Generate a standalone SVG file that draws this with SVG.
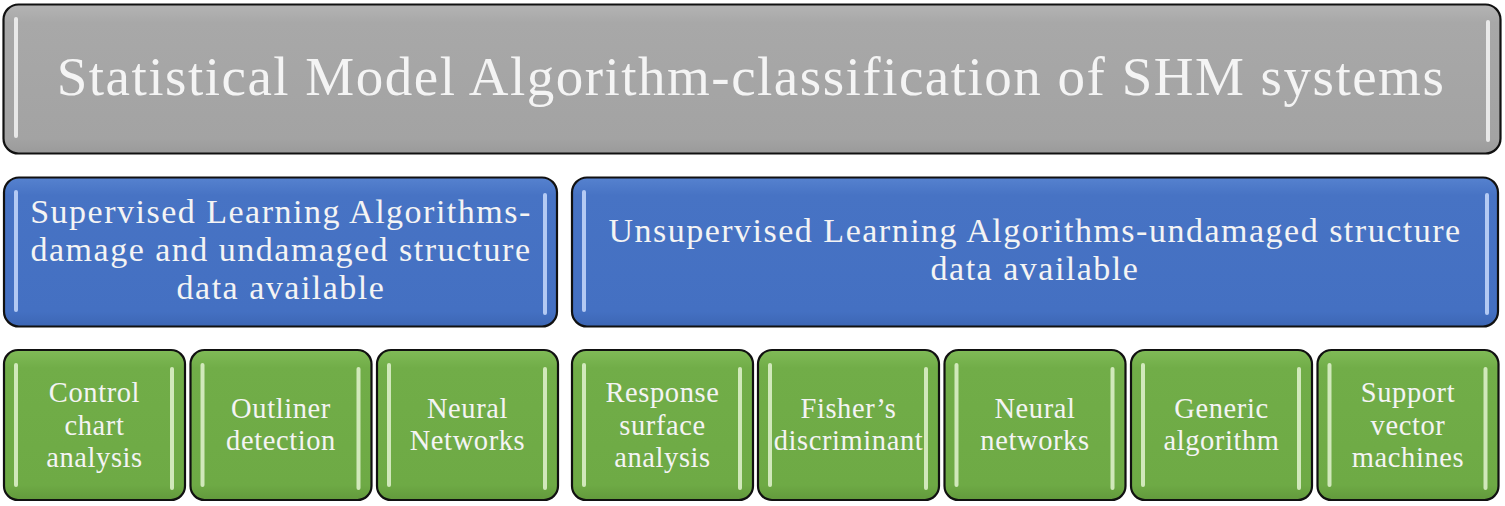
<svg xmlns="http://www.w3.org/2000/svg" width="1505" height="506" viewBox="0 0 1505 506">
<defs>
<linearGradient id="gGray" x1="0" y1="0" x2="0" y2="1">
<stop offset="0" stop-color="#b4b4b4"/><stop offset="0.12" stop-color="#a8a8a8"/><stop offset="0.9" stop-color="#a3a3a3"/><stop offset="1" stop-color="#9a9a9a"/>
</linearGradient>
<linearGradient id="gBlue" x1="0" y1="0" x2="0" y2="1">
<stop offset="0" stop-color="#5682cf"/><stop offset="0.12" stop-color="#4773c4"/><stop offset="0.9" stop-color="#4470c2"/><stop offset="1" stop-color="#3c66b4"/>
</linearGradient>
<linearGradient id="gGreen" x1="0" y1="0" x2="0" y2="1">
<stop offset="0" stop-color="#80bb57"/><stop offset="0.12" stop-color="#71ad48"/><stop offset="0.9" stop-color="#6eaa45"/><stop offset="1" stop-color="#62993c"/>
</linearGradient>
</defs>
<style>
.box{stroke:#111;stroke-width:2.2}
.gray{fill:url(#gGray)}
.blue{fill:url(#gBlue)}
.green{fill:url(#gGreen)}
.hl{fill:#ffffff;opacity:0.75}
.hlb{fill:#cfe0ff;opacity:0.8}
.hlg{fill:#eaf7d8;opacity:0.8}
text{font-family:"Liberation Serif","DejaVu Serif",serif;fill:#f4f4f4;text-anchor:middle}
.t1{font-size:55px;letter-spacing:1.5px}
.t2{font-size:34px;letter-spacing:1.5px}
.t3{font-size:28.5px;letter-spacing:0.6px}
</style>
<rect width="1505" height="506" fill="#ffffff"/>
<g id="title">
<rect class="box gray" x="3.5" y="4.5" width="1497" height="149" rx="15"/>
<rect class="hl" x="14" y="17" width="4" height="121" rx="2"/>
<rect class="hl" x="1486" y="20" width="4" height="122" rx="2"/>
<text class="t1" x="751" y="95">Statistical Model Algorithm-classification of SHM systems</text>
</g>
<g id="supervised">
<rect class="box blue" x="4" y="177.5" width="553" height="149" rx="15"/>
<rect class="hlb" x="14" y="190" width="4" height="122" rx="2"/>
<rect class="hlb" x="543" y="193" width="4" height="122" rx="2"/>
<text class="t2" x="281" y="223">Supervised Learning Algorithms-</text>
<text class="t2" x="281" y="261">damage and undamaged structure</text>
<text class="t2" x="281" y="299">data available</text>
</g>
<g id="unsupervised">
<rect class="box blue" x="572" y="177.5" width="926" height="149" rx="15"/>
<rect class="hlb" x="582" y="190" width="4" height="122" rx="2"/>
<rect class="hlb" x="1485" y="193" width="4" height="122" rx="2"/>
<text class="t2" x="1035" y="242">Unsupervised Learning Algorithms-undamaged structure</text>
<text class="t2" x="1035" y="280">data available</text>
</g>
<g id="control-chart">
<rect class="box green" x="4" y="350" width="181" height="150" rx="14"/>
<rect class="hlg" x="14" y="363" width="4" height="124" rx="2"/>
<rect class="hlg" x="170" y="367" width="4" height="123" rx="2"/>
<text class="t3" x="94.5" y="402">Control</text>
<text class="t3" x="94.5" y="435">chart</text>
<text class="t3" x="94.5" y="467">analysis</text>
</g>
<g id="outliner">
<rect class="box green" x="190.5" y="350" width="181" height="150" rx="14"/>
<rect class="hlg" x="200.5" y="363" width="4" height="124" rx="2"/>
<rect class="hlg" x="356.5" y="367" width="4" height="123" rx="2"/>
<text class="t3" x="281" y="418">Outliner</text>
<text class="t3" x="281" y="450">detection</text>
</g>
<g id="neural-networks-sup">
<rect class="box green" x="377" y="350" width="181" height="150" rx="14"/>
<rect class="hlg" x="387" y="363" width="4" height="124" rx="2"/>
<rect class="hlg" x="543" y="367" width="4" height="123" rx="2"/>
<text class="t3" x="467.5" y="418">Neural</text>
<text class="t3" x="467.5" y="450">Networks</text>
</g>
<g id="response-surface">
<rect class="box green" x="572" y="350" width="181" height="150" rx="14"/>
<rect class="hlg" x="582" y="363" width="4" height="124" rx="2"/>
<rect class="hlg" x="738" y="367" width="4" height="123" rx="2"/>
<text class="t3" x="662.5" y="402">Response</text>
<text class="t3" x="662.5" y="435">surface</text>
<text class="t3" x="662.5" y="467">analysis</text>
</g>
<g id="fisher">
<rect class="box green" x="758" y="350" width="181" height="150" rx="14"/>
<rect class="hlg" x="768" y="363" width="4" height="124" rx="2"/>
<rect class="hlg" x="924" y="367" width="4" height="123" rx="2"/>
<text class="t3" x="848.5" y="418">Fisher’s</text>
<text class="t3" x="848.5" y="450">discriminant</text>
</g>
<g id="neural-networks-unsup">
<rect class="box green" x="944.5" y="350" width="181" height="150" rx="14"/>
<rect class="hlg" x="954.5" y="363" width="4" height="124" rx="2"/>
<rect class="hlg" x="1110.5" y="367" width="4" height="123" rx="2"/>
<text class="t3" x="1035" y="418">Neural</text>
<text class="t3" x="1035" y="450">networks</text>
</g>
<g id="generic-algorithm">
<rect class="box green" x="1131" y="350" width="181" height="150" rx="14"/>
<rect class="hlg" x="1141" y="363" width="4" height="124" rx="2"/>
<rect class="hlg" x="1297" y="367" width="4" height="123" rx="2"/>
<text class="t3" x="1221.5" y="418">Generic</text>
<text class="t3" x="1221.5" y="450">algorithm</text>
</g>
<g id="svm">
<rect class="box green" x="1317.5" y="350" width="181" height="150" rx="14"/>
<rect class="hlg" x="1327.5" y="363" width="4" height="124" rx="2"/>
<rect class="hlg" x="1483.5" y="367" width="4" height="123" rx="2"/>
<text class="t3" x="1408" y="402">Support</text>
<text class="t3" x="1408" y="435">vector</text>
<text class="t3" x="1408" y="467">machines</text>
</g>
</svg>
